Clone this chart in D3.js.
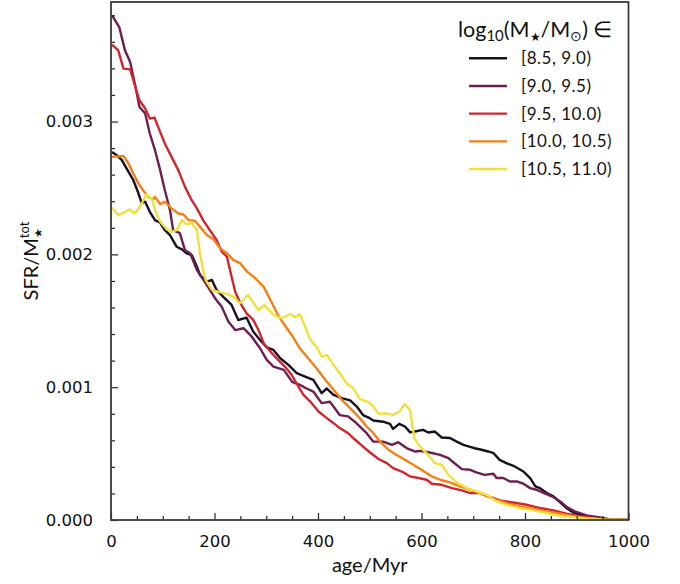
<!DOCTYPE html>
<html>
<head>
<meta charset="utf-8">
<script src="https://cdn.jsdelivr.net/npm/d3@7"></script>
<style>
  body { margin: 0; background: #fff; }
  svg text { fill: #111; }
</style>
</head>
<body>
<div id="chart"></div>
<script>
// SFR per total stellar mass vs. age, values in units of 1e-3
const ageA = [2, 11, 21, 30, 43, 53, 59, 66, 75, 85, 95, 104, 114, 127, 137, 146, 156, 166, 172, 185, 195, 204, 217, 233, 246, 262, 275, 288, 301, 314, 327, 343, 359, 375, 391, 407, 417, 430, 446, 462, 475, 487, 500, 507, 526, 539, 545, 557, 568, 578, 587, 603, 613, 626, 639, 655, 668, 681, 694, 703, 716, 729, 739, 751, 764, 780, 797, 810, 820, 829, 842, 855, 868, 880, 893, 913, 940, 960, 1000];
const sfrA = [2.77, 2.747, 2.71, 2.647, 2.56, 2.46, 2.39, 2.396, 2.32, 2.258, 2.238, 2.183, 2.145, 2.057, 2.038, 2.008, 1.995, 1.907, 1.844, 1.794, 1.807, 1.732, 1.68, 1.619, 1.506, 1.523, 1.418, 1.356, 1.30, 1.28, 1.218, 1.168, 1.105, 1.08, 1.055, 0.955, 0.99, 0.942, 0.917, 0.90, 0.854, 0.79, 0.767, 0.749, 0.74, 0.724, 0.686, 0.724, 0.704, 0.66, 0.666, 0.679, 0.659, 0.666, 0.621, 0.617, 0.59, 0.566, 0.55, 0.54, 0.529, 0.516, 0.504, 0.453, 0.428, 0.403, 0.365, 0.316, 0.253, 0.24, 0.203, 0.178, 0.132, 0.09, 0.057, 0.032, 0.01, 0.003, 0];

const ageB = [2, 16, 27, 37, 46, 55, 66, 75, 85, 95, 104, 114, 120, 133, 143, 153, 166, 185, 201, 214, 227, 240, 256, 272, 288, 301, 314, 334, 350, 365, 378, 391, 407, 423, 442, 458, 474, 487, 494, 507, 526, 543, 555, 572, 587, 597, 616, 636, 652, 662, 678, 694, 706, 722, 739, 745, 758, 771, 784, 797, 810, 822, 839, 855, 868, 880, 896, 919, 945, 965, 1000];
const sfrB = [3.80, 3.71, 3.536, 3.448, 3.286, 3.11, 3.06, 2.91, 2.784, 2.634, 2.483, 2.333, 2.183, 2.16, 2.03, 2.008, 1.882, 1.77, 1.67, 1.606, 1.493, 1.43, 1.444, 1.38, 1.293, 1.205, 1.155, 1.13, 1.04, 1.017, 0.99, 0.967, 0.88, 0.89, 0.79, 0.78, 0.73, 0.68, 0.654, 0.59, 0.59, 0.566, 0.586, 0.54, 0.516, 0.52, 0.508, 0.49, 0.466, 0.433, 0.383, 0.378, 0.358, 0.34, 0.348, 0.316, 0.316, 0.29, 0.29, 0.273, 0.24, 0.228, 0.198, 0.173, 0.14, 0.10, 0.065, 0.035, 0.02, 0.005, 0];

const ageC = [2, 14, 24, 37, 46, 55, 66, 75, 84, 95, 104, 117, 130, 143, 156, 166, 178, 191, 204, 214, 224, 233, 240, 250, 262, 275, 285, 295, 308, 323, 336, 349, 362, 372, 385, 401, 417, 430, 442, 458, 472, 487, 500, 517, 533, 545, 562, 578, 594, 610, 620, 639, 659, 678, 694, 713, 729, 752, 777, 803, 829, 855, 880, 906, 932, 955, 1000];
const sfrC = [3.579, 3.536, 3.398, 3.393, 3.273, 3.16, 3.098, 3.022, 3.03, 2.922, 2.835, 2.734, 2.634, 2.508, 2.408, 2.346, 2.258, 2.183, 2.108, 2.02, 1.982, 1.832, 1.719, 1.632, 1.556, 1.506, 1.431, 1.331, 1.268, 1.205, 1.155, 1.093, 1.005, 0.942, 0.892, 0.817, 0.767, 0.729, 0.692, 0.654, 0.604, 0.553, 0.51, 0.459, 0.428, 0.391, 0.365, 0.328, 0.316, 0.303, 0.273, 0.265, 0.24, 0.223, 0.203, 0.203, 0.178, 0.147, 0.132, 0.115, 0.09, 0.072, 0.047, 0.027, 0.015, 0.003, 0];

const ageD = [2, 24, 34, 43, 53, 62, 72, 82, 85, 95, 104, 117, 130, 140, 150, 162, 172, 185, 198, 211, 224, 237, 250, 263, 279, 295, 308, 321, 333, 349, 365, 381, 397, 414, 430, 446, 462, 478, 494, 507, 520, 536, 552, 568, 584, 600, 620, 636, 655, 674, 694, 713, 739, 764, 790, 816, 842, 868, 893, 919, 950, 1000];
const sfrD = [2.734, 2.74, 2.684, 2.609, 2.534, 2.483, 2.433, 2.414, 2.433, 2.378, 2.396, 2.346, 2.308, 2.30, 2.258, 2.253, 2.208, 2.145, 2.113, 2.045, 2.008, 1.957, 1.932, 1.87, 1.82, 1.756, 1.656, 1.556, 1.481, 1.393, 1.293, 1.218, 1.143, 1.056, 0.98, 0.905, 0.842, 0.779, 0.704, 0.654, 0.59, 0.529, 0.49, 0.453, 0.416, 0.378, 0.328, 0.303, 0.283, 0.253, 0.228, 0.203, 0.158, 0.128, 0.102, 0.083, 0.065, 0.047, 0.027, 0.015, 0.003, 0];

const ageE = [2, 14, 24, 36, 46, 56, 68, 79, 85, 95, 108, 117, 127, 137, 146, 156, 166, 172, 178, 183, 195, 207, 224, 237, 249, 265, 285, 297, 314, 330, 346, 356, 365, 375, 385, 398, 407, 417, 430, 442, 455, 468, 481, 497, 507, 517, 529, 545, 558, 567, 578, 586, 597, 613, 626, 639, 652, 668, 688, 706, 726, 745, 764, 790, 816, 842, 868, 893, 919, 950, 1000];
const sfrE = [2.353, 2.295, 2.313, 2.338, 2.308, 2.358, 2.451, 2.421, 2.333, 2.245, 2.188, 2.17, 2.183, 2.258, 2.228, 2.238, 2.183, 2.008, 1.882, 1.807, 1.732, 1.719, 1.70, 1.68, 1.632, 1.694, 1.581, 1.619, 1.544, 1.519, 1.551, 1.526, 1.551, 1.456, 1.356, 1.30, 1.23, 1.243, 1.168, 1.105, 1.03, 0.992, 0.91, 0.89, 0.854, 0.799, 0.804, 0.792, 0.817, 0.874, 0.829, 0.617, 0.553, 0.49, 0.428, 0.416, 0.34, 0.283, 0.24, 0.215, 0.19, 0.14, 0.115, 0.09, 0.072, 0.053, 0.032, 0.023, 0.012, 0.004, 0];

const binLabels = ['[8.5, 9.0)', '[9.0, 9.5)', '[9.5, 10.0)', '[10.0, 10.5)', '[10.5, 11.0)'];
const binColors = ['#181020', '#6e1f4f', '#d1262e', '#f57f12', '#f1e03a'];
const xTicks = [0, 200, 400, 600, 800, 1000];
const yTicks = [0, 1, 2, 3];

const series = [[ageA, sfrA], [ageB, sfrB], [ageC, sfrC], [ageD, sfrD], [ageE, sfrE]]
    .map(([ages, vals], i) => ({
        label: binLabels[i],
        color: binColors[i],
        points: ages.map((a, j) => [a, vals[j]])
    }));

const width = 680, height = 584;
const plotL = 111, plotR = 628.5, plotT = 2, plotB = 520;

const svg = d3.select('#chart')
    .append('svg')
    .attr('width', width)
    .attr('height', height);

const x = d3.scaleLinear().domain([0, 1000]).range([plotL, plotR]);
const y = d3.scaleLinear().domain([0, 3.9]).range([plotB, plotT]);

svg.append('clipPath')
    .attr('id', 'plot-clip')
    .append('rect')
    .attr('x', plotL).attr('y', plotT)
    .attr('width', plotR - plotL).attr('height', plotB - plotT);

// curves
const line = d3.line()
    .x(d => x(d[0]))
    .y(d => y(d[1]));

svg.append('g')
    .attr('clip-path', 'url(#plot-clip)')
    .selectAll('path')
    .data(series)
    .enter().append('path')
    .attr('d', d => line(d.points))
    .attr('fill', 'none')
    .attr('stroke', d => d.color)
    .attr('stroke-width', 2.4)
    .attr('stroke-linejoin', 'round');

// axes, ticks pointing inward
const tickFont = '"DejaVu Sans", sans-serif';

const xAxis = svg.append('g')
    .attr('transform', `translate(0, ${plotB})`)
    .call(d3.axisBottom(x).tickValues(xTicks).tickSizeInner(-7).tickSizeOuter(0).tickPadding(15)
        .tickFormat(d3.format('d')));
xAxis.selectAll('text').style('font-family', tickFont).style('font-size', '16.5px');

svg.append('g')
    .attr('transform', `translate(0, ${plotB})`)
    .call(d3.axisBottom(x).tickValues(d3.range(0, 1001, 50).filter(v => v % 200)).tickSizeInner(-4).tickSizeOuter(0).tickFormat(''));

const yAxis = svg.append('g')
    .attr('transform', `translate(${plotL}, 0)`)
    .call(d3.axisLeft(y).tickValues(yTicks).tickSizeInner(-7).tickSizeOuter(0).tickPadding(18)
        .tickFormat(d => (d / 1000).toFixed(3)));
yAxis.selectAll('text').style('font-family', tickFont).style('font-size', '16.5px');

svg.append('g')
    .attr('transform', `translate(${plotL}, 0)`)
    .call(d3.axisLeft(y).tickValues(d3.range(0, 39).map(v => v / 5).filter(v => v % 1 && v < 3.9)).tickSizeInner(-4).tickSizeOuter(0).tickFormat(''));

svg.selectAll('.domain').remove();
svg.selectAll('.tick line').attr('stroke', '#222').attr('stroke-width', 1.2);

// frame
svg.append('rect')
    .attr('x', plotL).attr('y', plotT)
    .attr('width', plotR - plotL).attr('height', plotB - plotT)
    .attr('fill', 'none')
    .attr('stroke', '#3a3a3a')
    .attr('stroke-width', 1.8);

// axis labels
const labelFont = 'Lato, sans-serif';

svg.append('text')
    .attr('x', (plotL + plotR) / 2)
    .attr('y', 572)
    .attr('text-anchor', 'middle')
    .style('font-family', labelFont)
    .style('font-size', '20px')
    .text('age/Myr');

const yLabel = svg.append('text')
    .attr('transform', `translate(38, ${(plotT + plotB) / 2}) rotate(-90)`)
    .attr('text-anchor', 'middle')
    .style('font-family', labelFont)
    .style('font-size', '20px');
yLabel.append('tspan').text('SFR/M');
yLabel.append('tspan').attr('dy', 4).style('font-size', '11px').text('★');
yLabel.append('tspan').attr('dx', -10).attr('dy', -13).style('font-size', '13px').text('tot');

// legend
const legend = svg.append('g');

const title = legend.append('text')
    .attr('x', 458)
    .attr('y', 37)
    .style('font-family', labelFont)
    .style('font-size', '21.5px');
title.append('tspan').text('log');
title.append('tspan').attr('dy', 4).style('font-size', '15px').text('10');
title.append('tspan').attr('dy', -4).text('(M');
title.append('tspan').attr('dy', 4).style('font-size', '12px').text('★');
title.append('tspan').attr('dy', -4).text('/M');
title.append('tspan').attr('dy', 4).style('font-size', '14px').text('⊙');
title.append('tspan').attr('dy', -4).text(') ∈');

const legendY = d3.scalePoint().domain(binLabels).range([58.3, 169]);

const items = legend.selectAll('g.item')
    .data(series)
    .enter().append('g')
    .attr('class', 'item')
    .attr('transform', d => `translate(0, ${legendY(d.label)})`);

items.append('line')
    .attr('x1', 469).attr('x2', 507)
    .attr('stroke', d => d.color)
    .attr('stroke-width', 2.4);

items.append('text')
    .attr('x', 521)
    .attr('y', 6)
    .style('font-family', labelFont)
    .style('font-size', '17px')
    .style('letter-spacing', '0.5px')
    .text(d => d.label);
</script>
</body>
</html>
